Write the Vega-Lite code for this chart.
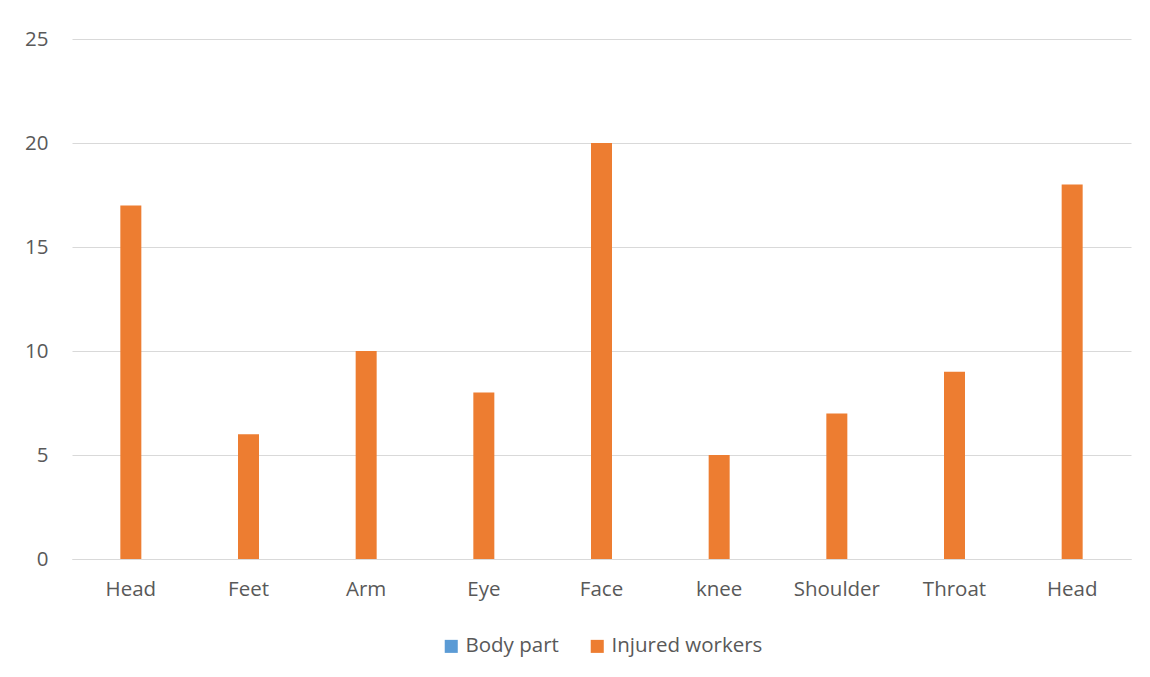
{
  "$schema": "https://vega.github.io/schema/vega-lite/v6.json",
  "width": 1059,
  "height": 520,
  "autosize": {"type": "none"},
  "padding": {"left": 72, "top": 39, "right": 19, "bottom": 118},
  "background": "white",
  "data": {
    "values": [
      {"key": "Head#1", "series": "Injured workers", "value": 17},
      {"key": "Feet#2", "series": "Injured workers", "value": 6},
      {"key": "Arm#3", "series": "Injured workers", "value": 10},
      {"key": "Eye#4", "series": "Injured workers", "value": 8},
      {"key": "Face#5", "series": "Injured workers", "value": 20},
      {"key": "knee#6", "series": "Injured workers", "value": 5},
      {"key": "Shoulder#7", "series": "Injured workers", "value": 7},
      {"key": "Throat#8", "series": "Injured workers", "value": 9},
      {"key": "Head#9", "series": "Injured workers", "value": 18}
    ]
  },
  "mark": {"type": "bar", "width": 21},
  "encoding": {
    "x": {
      "field": "key",
      "type": "nominal",
      "sort": null,
      "scale": {"paddingInner": 0, "paddingOuter": 0},
      "axis": {
        "title": null,
        "labelAngle": 0,
        "labelExpr": "split(datum.value, '#')[0]",
        "ticks": false,
        "domain": true,
        "domainColor": "#D9D9D9",
        "domainWidth": 1,
        "labelPadding": 20,
        "labelFontSize": 20.5,
        "labelFont": "Open Sans",
        "labelColor": "#595959"
      }
    },
    "y": {
      "field": "value",
      "type": "quantitative",
      "scale": {"domain": [0, 25], "nice": false},
      "axis": {
        "title": null,
        "values": [0, 5, 10, 15, 20, 25],
        "ticks": false,
        "domain": false,
        "grid": true,
        "gridColor": "#D9D9D9",
        "gridWidth": 1,
        "labelPadding": 24,
        "labelFontSize": 20.5,
        "labelFont": "Open Sans",
        "labelColor": "#595959"
      }
    },
    "color": {
      "field": "series",
      "type": "nominal",
      "scale": {"domain": ["Body part", "Injured workers"], "range": ["#5B9BD5", "#ED7D31"]},
      "legend": {
        "title": null,
        "orient": "bottom",
        "direction": "horizontal",
        "symbolType": "square",
        "symbolSize": 170,
        "symbolStrokeWidth": 0,
        "labelFontSize": 20.5,
        "labelFont": "Open Sans",
        "labelColor": "#595959",
        "columnPadding": 28,
        "offset": 36
      }
    }
  },
  "config": {
    "view": {"stroke": null},
    "legend": {"layout": {"bottom": {"anchor": "middle"}}}
  }
}
